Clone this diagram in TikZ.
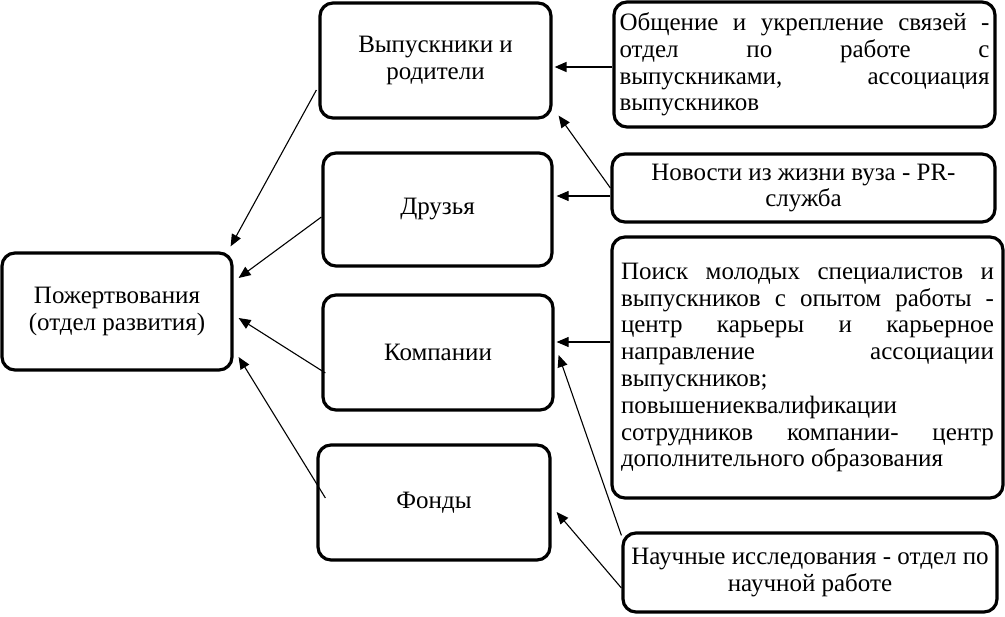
\documentclass[tikz,border=0pt]{standalone}
\usepackage{fontspec}
\setmainfont{Liberation Serif}
\usetikzlibrary{arrows.meta}
\hyphenpenalty=10000
\exhyphenpenalty=10000
\begin{document}
\begin{tikzpicture}[x=1pt,y=-1pt,
  box/.style={draw, line width=3.2pt, rounded corners=13pt, inner sep=0pt,
    font=\fontsize{25}{26.8}\selectfont},
  cbox/.style={box, align=center},
  jbox/.style={box, align=justify},
  arr/.style={line width=1.1pt, -{Triangle[length=12pt,width=10pt]}},
]
\useasboundingbox (0,0) rectangle (1005,617);

\node[cbox, minimum width=230pt, minimum height=117pt] (P) at (117,311.5) {Пожертвования\\(отдел развития)};
\node[cbox, minimum width=231pt, minimum height=115pt] (V) at (435.5,60.5) {Выпускники и\\родители};
\node[cbox, minimum width=229pt, minimum height=113pt] (D) at (437.5,209.5) {Друзья};
\node[cbox, minimum width=230pt, minimum height=115pt] (K) at (438,352.5) {Компании};
\node[cbox, minimum width=232pt, minimum height=115pt] (F) at (434,502.5) {Фонды};

\node[jbox, minimum width=381pt, minimum height=125pt, text width=370pt] (O) at (804.5,64.5)
  {Общение и укрепление связей -\linebreak отдел по работе с\linebreak выпускниками, ассоциация\linebreak выпускников};
\node[cbox, minimum width=383pt, minimum height=68pt] (N) at (803.5,188)
  {Новости из жизни вуза - PR-\\служба};
\node[jbox, minimum width=391pt, minimum height=261pt, text width=373pt] (S) at (807.5,367.5)
  {Поиск молодых специалистов и\linebreak выпускников с опытом работы -\linebreak центр карьеры и карьерное\linebreak направление ассоциации\linebreak выпускников;\\ повышениеквалификации\\ сотрудников компании- центр\linebreak дополнительного образования};
\node[cbox, minimum width=374pt, minimum height=79pt] (R) at (810,572.5)
  {Научные исследования - отдел по\\научной работе};

% to donations
\draw[arr] ([xshift=-2pt,yshift=-29.5pt]V.west) -- ([xshift=-3pt,yshift=5pt]P.north east);
\draw[arr] ([yshift=-7.5pt]D.west) -- ([xshift=5pt,yshift=33.5pt]P.east);
\draw[arr] ([xshift=4pt,yshift=-20.5pt]K.west) -- ([xshift=5pt,yshift=-6.5pt]P.east);
\draw[arr] ([xshift=9pt,yshift=4.5pt]F.west) -- ([xshift=5pt,yshift=-45.5pt]P.east);
% from right boxes
\draw[arr, line width=1.6pt] ([yshift=-2.5pt]O.west) -- ([xshift=2pt,yshift=-6.5pt]V.east);
\draw[arr] (N.west) -- ([xshift=6pt,yshift=4pt]V.south east);
\draw[arr] ([yshift=-8pt]N.west) -- ([xshift=3pt,yshift=13.5pt]D.east);
\draw[arr] ([yshift=25.5pt]S.west) -- ([xshift=2pt,yshift=10.5pt]K.east);
\draw[arr] ([yshift=-4pt]R.north west) -- ([xshift=4pt,yshift=-2.5pt]K.east);
\draw[arr] ([yshift=-15.5pt]R.west) -- ([xshift=5pt,yshift=-9.5pt]F.east);
\end{tikzpicture}
\end{document}
